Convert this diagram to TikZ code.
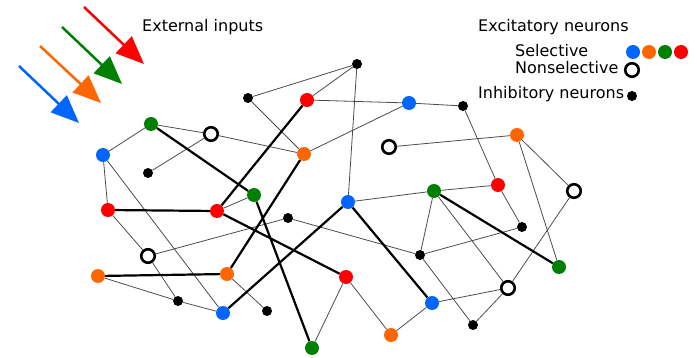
\documentclass[tikz,border=0pt]{standalone}
\usepackage{fontspec}
\setmainfont{DejaVu Sans}
\usepackage{tikz}
\usetikzlibrary{arrows.meta}
\definecolor{selblue}{RGB}{0,102,255}
\definecolor{selorange}{RGB}{255,102,0}
\definecolor{selgreen}{RGB}{0,128,0}
\definecolor{selred}{RGB}{255,0,0}
\tikzset{
  excnode/.style={circle, fill=#1, minimum size=14pt, inner sep=0pt},
  nonsel/.style={circle, draw=black, fill=white, line width=2.6pt,
    minimum size=13.5pt, inner sep=0pt},
  inhnode/.style={circle, fill=black, minimum size=10pt, inner sep=0pt},
  link/.style={draw=black!70, line width=0.8pt},
  strong/.style={draw=black, line width=2.2pt},
  inarrow/.style={-{Triangle[length=28pt, width=23pt]}, line width=2.5pt, color=#1},
  label/.style={anchor=base west, inner sep=0pt, font=\fontsize{16}{19}\selectfont}
}

\begin{document}
\begin{tikzpicture}[x=1pt, y=-1pt]
  \useasboundingbox (0,0) rectangle (697,358);

  % external inputs
  \foreach \col/\sx/\sy/\ex/\ey in {selred/84/7/144/64, selgreen/62/27/122/84,
      selorange/40/46/101/103, selblue/19/66/79/123} {
    \coordinate (s-\col) at (\sx,\sy);
    \coordinate (e-\col) at (\ex,\ey);
    \draw[inarrow=\col] (s-\col) -- (e-\col);
  }
  \node[label] (extlabel) at (142,32) {External inputs};

  % legend
  \node[label] (exclabel) at (478,32) {Excitatory neurons};
  \node[label] (sellabel) at (515,57) {Selective};
  \node[label] (nonlabel) at (515,74) {Nonselective};
  \node[label] (inhlabel) at (478,99) {Inhibitory neurons};
  \node[excnode=selblue] (lb) at (633,52) {};
  \node[excnode=selorange] (lo) at (649,52) {};
  \node[excnode=selgreen] (lg) at (665,52) {};
  \node[excnode=selred] (lr) at (681,52) {};
  \node[nonsel] (ln) at (632,70) {};
  \node[inhnode] (li) at (632,96) {};

  % inhibitory neurons
  \node[inhnode] (i1) at (357,64) {};
  \node[inhnode] (i2) at (248,98) {};
  \node[inhnode] (i3) at (463,106) {};
  \node[inhnode] (i4) at (148,173) {};
  \node[inhnode] (i5) at (288,218) {};
  \node[inhnode] (i6) at (522,227) {};
  \node[inhnode] (i7) at (420,255) {};
  \node[inhnode] (i8) at (178,301) {};
  \node[inhnode] (i9) at (267,311) {};
  \node[inhnode] (i10) at (473,325) {};

  % nonselective excitatory neurons
  \node[nonsel] (n1) at (211,134) {};
  \node[nonsel] (n2) at (389,147) {};
  \node[nonsel] (n3) at (574,191) {};
  \node[nonsel] (n4) at (148,256) {};
  \node[nonsel] (n5) at (508,288) {};

  % selective excitatory neurons
  \node[excnode=selblue] (b1) at (409,103) {};
  \node[excnode=selblue] (b2) at (103,155) {};
  \node[excnode=selblue] (b3) at (348,202) {};
  \node[excnode=selblue] (b4) at (432,303) {};
  \node[excnode=selblue] (b5) at (223,313) {};
  \node[excnode=selorange] (o1) at (517,135) {};
  \node[excnode=selorange] (o2) at (304,154) {};
  \node[excnode=selorange] (o3) at (98,276) {};
  \node[excnode=selorange] (o4) at (227,274) {};
  \node[excnode=selorange] (o5) at (391,335) {};
  \node[excnode=selgreen] (g1) at (151,124) {};
  \node[excnode=selgreen] (g2) at (434,191) {};
  \node[excnode=selgreen] (g3) at (254,195) {};
  \node[excnode=selgreen] (g4) at (559,267) {};
  \node[excnode=selgreen] (g5) at (312,348) {};
  \node[excnode=selred] (r1) at (307,100) {};
  \node[excnode=selred] (r2) at (498,185) {};
  \node[excnode=selred] (r3) at (108,210) {};
  \node[excnode=selred] (r4) at (217,211) {};
  \node[excnode=selred] (r5) at (346,277) {};

  % weak connections
  \foreach \a/\b in {i2/i1, r1/i1, i2/o2, r1/b1, b1/o2, b1/i3, i3/r2,
      g1/n1, g1/b2, n1/i4, n1/o2, b2/r3, b2/b5, r3/n4, n4/i5, n4/i8,
      o3/i8, i8/b5, r4/g3, o4/i9, b3/i1, b3/g2, g2/r2, r2/i6, i6/i7,
      i5/i7, i7/g2, i7/i10, i10/n5, n5/b4, n5/n3, g2/n5, o1/n2, o1/n3,
      o1/g4, r5/o5, r5/g5, o5/b4}
    \draw[link] (\a) -- (\b);

  % strong connections within a selective group
  \foreach \a/\b in {g1/g3, r1/r4, r3/r4, r4/r5, g3/g5, o2/o4, o3/o4,
      b5/b3, b3/b4, g2/g4}
    \draw[strong] (\a) -- (\b);
\end{tikzpicture}
\end{document}
